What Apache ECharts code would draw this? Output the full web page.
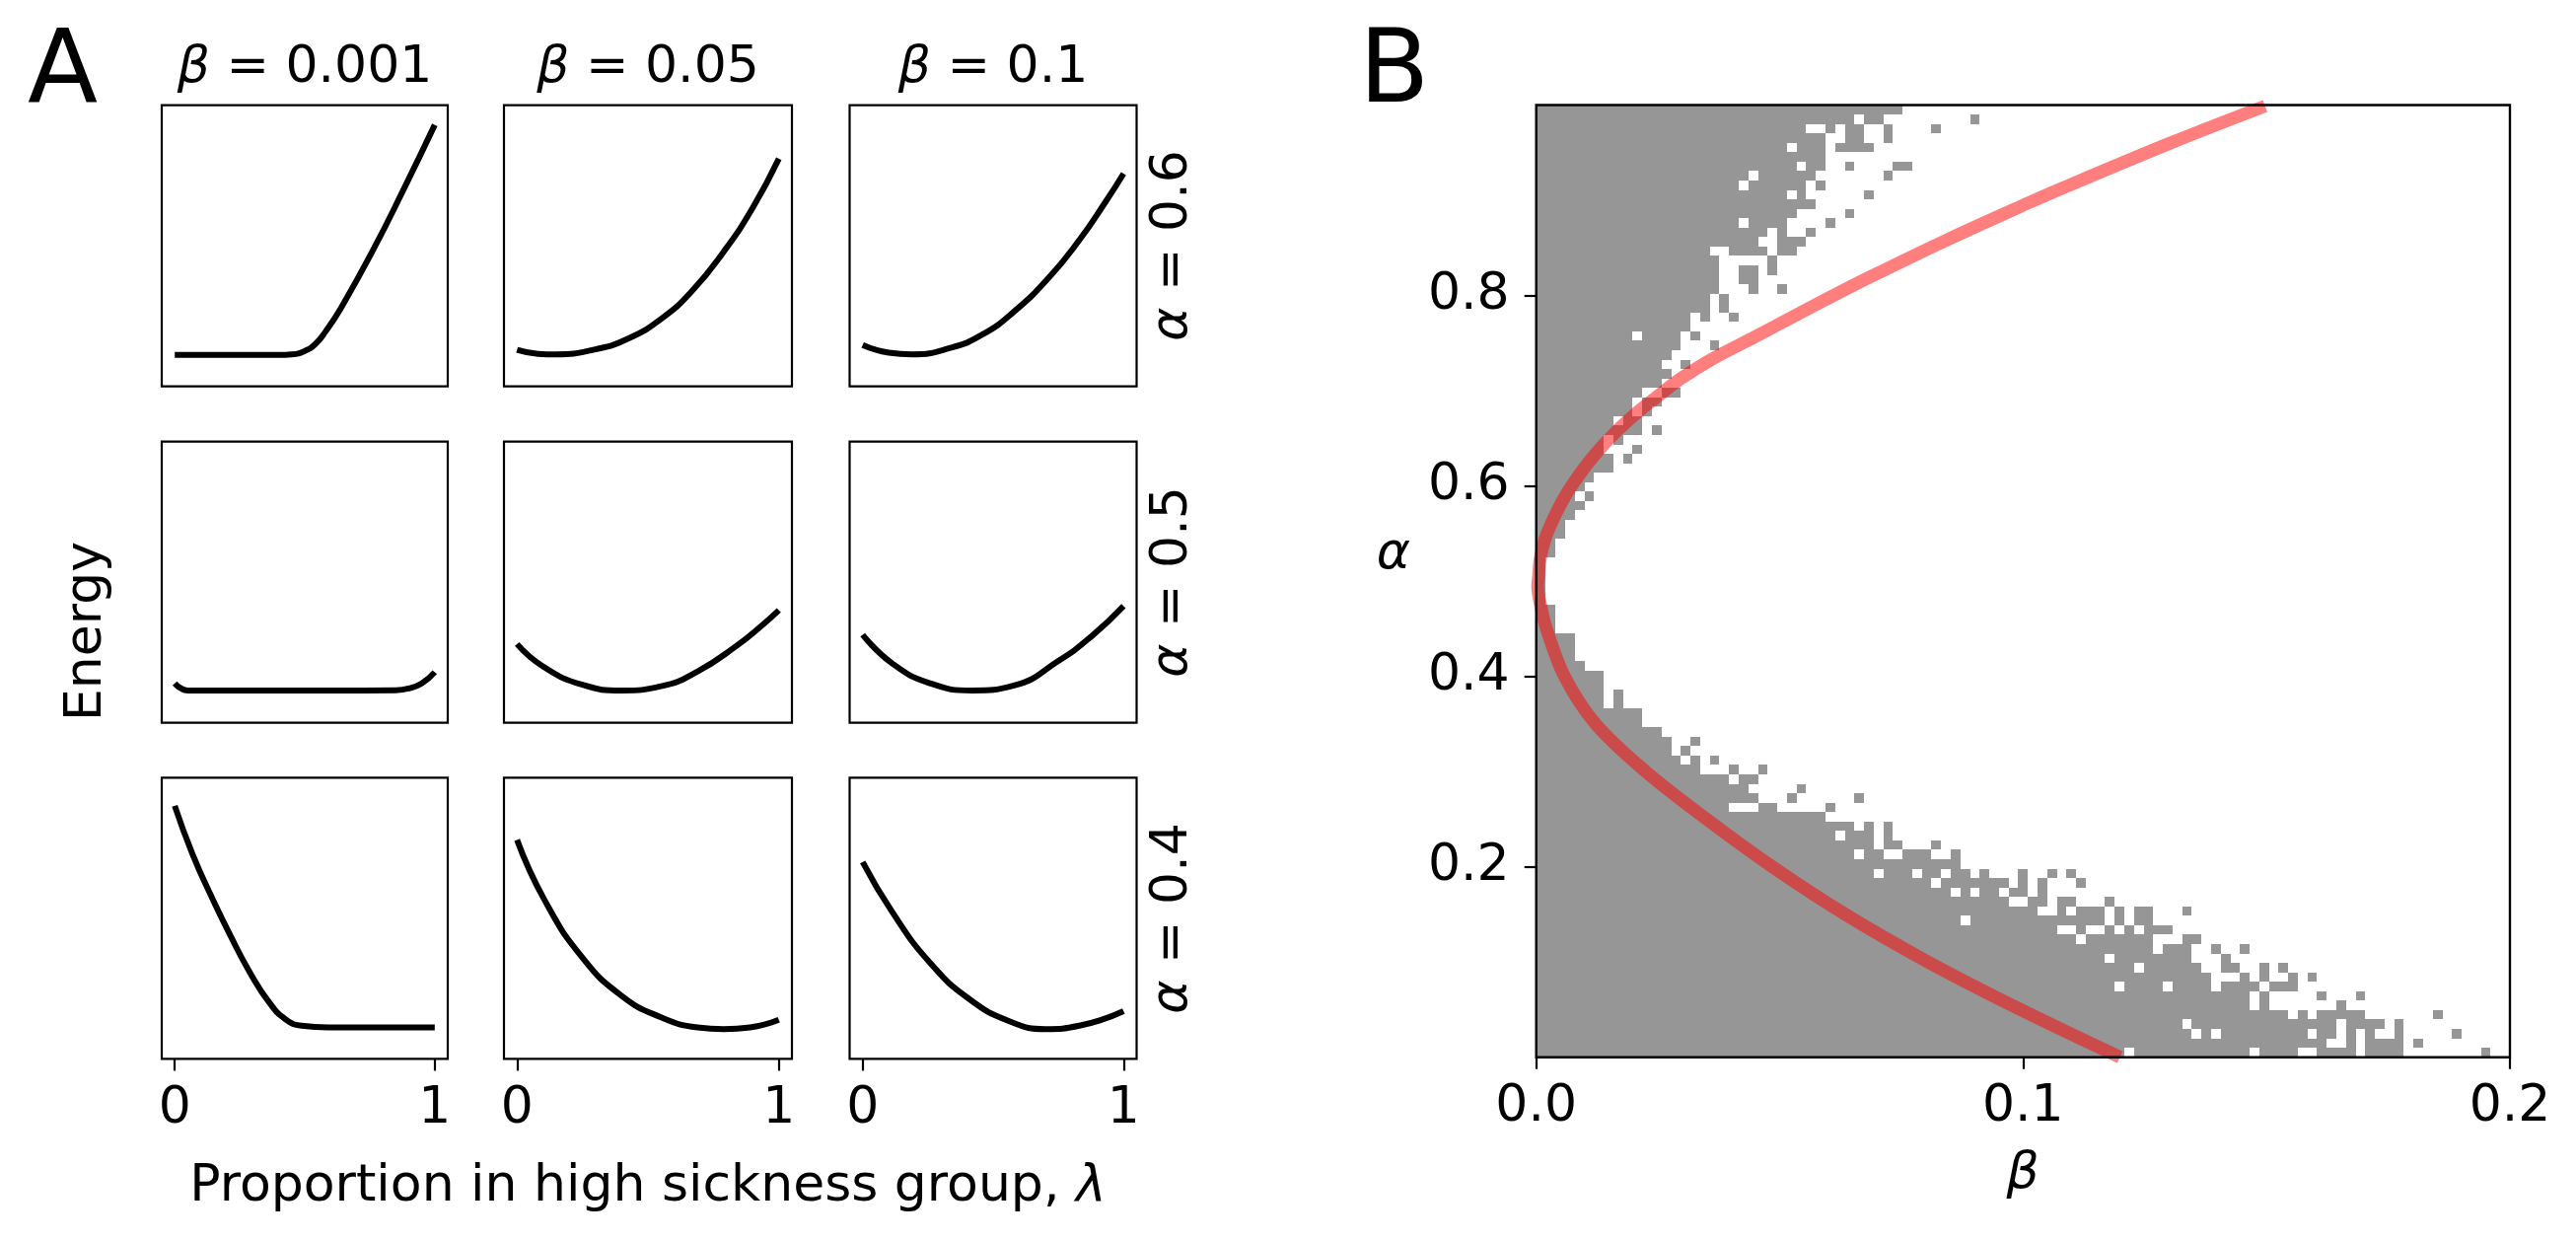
<!DOCTYPE html>
<html>
<head>
<meta charset="utf-8">
<script src="https://cdn.jsdelivr.net/npm/echarts@6/dist/echarts.min.js"></script>
<style>
html,body{margin:0;padding:0;background:#fff;}
#c{width:2612px;height:1258px;}
</style>
</head>
<body>
<div id="c"></div>
<script>
// ---------------- DATA ----------------
const betaTitles = ['0.001', '0.05', '0.1'];
const alphaRows = ['0.6', '0.5', '0.4'];
const lambdaTicks = [0, 1];

// Panel A: relative energy vs lambda
const e_a06_b0001 = [[0,0.112],[0.2,0.112],[0.4,0.112],[0.45,0.114],[0.5,0.126],[0.54,0.15],[0.58,0.195],[0.64,0.28],[0.76,0.48],[0.88,0.70],[1,0.93]];
const e_a06_b005  = [[0,0.13],[0.08,0.116],[0.15,0.114],[0.3,0.132],[0.42,0.168],[0.55,0.24],[0.67,0.341],[0.79,0.48],[0.9,0.635],[1,0.81]];
const e_a06_b01   = [[0,0.147],[0.1,0.12],[0.19,0.114],[0.34,0.138],[0.46,0.185],[0.58,0.266],[0.71,0.383],[0.83,0.52],[0.93,0.655],[1,0.757]];
const e_a05_b0001 = [[0,0.14],[0.02,0.125],[0.05,0.115],[0.3,0.115],[0.6,0.115],[0.85,0.116],[0.9,0.122],[0.95,0.14],[1,0.18]];
const e_a05_b005  = [[0,0.28],[0.1,0.2],[0.25,0.135],[0.4,0.115],[0.55,0.13],[0.69,0.183],[0.84,0.275],[0.94,0.35],[1,0.4]];
const e_a05_b01   = [[0,0.313],[0.115,0.21],[0.26,0.14],[0.42,0.115],[0.58,0.133],[0.75,0.22],[0.88,0.31],[1,0.415]];
const e_a04_b0001 = [[0,0.9],[0.068,0.729],[0.142,0.576],[0.216,0.435],[0.29,0.306],[0.364,0.2],[0.426,0.141],[0.488,0.118],[0.59,0.112],[1,0.112]];
const e_a04_b005  = [[0,0.779],[0.105,0.565],[0.25,0.36],[0.4,0.224],[0.55,0.148],[0.69,0.112],[0.79,0.106],[0.89,0.112],[1,0.139]];
const e_a04_b01   = [[0,0.7],[0.115,0.52],[0.26,0.34],[0.41,0.212],[0.56,0.135],[0.7,0.106],[0.83,0.118],[1,0.17]];

// Panel B: red boundary curve [beta, alpha]
const curveUpper = [[0.0003,0.495],[0.0005,0.506],[0.0008,0.523],[0.0018,0.544],[0.0035,0.565],[0.0059,0.589],[0.0086,0.610],[0.0119,0.632],[0.0160,0.655],[0.0207,0.677],[0.0254,0.696],[0.0295,0.712],[0.0364,0.734],[0.0451,0.757],[0.0517,0.775],[0.0588,0.794],[0.0684,0.819],[0.0842,0.858],[0.1010,0.897],[0.1077,0.912],[0.1307,0.961],[0.1497,0.999]];
const curveLower = [[0.0003,0.495],[0.0011,0.47],[0.0021,0.45],[0.0058,0.40],[0.0122,0.35],[0.0225,0.30],[0.0350,0.25],[0.0485,0.20],[0.0635,0.15],[0.0805,0.10],[0.0995,0.05],[0.1199,0.0]];

// Panel B: grey cells, 101 x 101 grid over beta [0,0.2] x alpha [0,1]
// one entry per grid row from the top row down; each run = [first column, last column]
const nCols = 101, nRows = 101;
const grayRunsTop = [
[[0,37]],
[[0,32],[34,35],[45,45]],
[[0,27],[30,30],[32,33],[36,36],[41,41]],
[[0,29],[32,33],[36,36]],
[[0,25],[27,29],[31,34]],
[[0,29]],
[[0,26],[28,29],[32,32],[37,38]],
[[0,21],[23,28],[36,36]],
[[0,20],[22,27],[29,29]],
[[0,25],[27,27],[34,34]],
[[0,28]],
[[0,26],[32,32]],
[[0,20],[22,25],[30,30]],
[[0,23],[25,25],[28,28]],
[[0,22],[25,27]],
[[0,17],[20,23],[25,26]],
[[0,18],[24,24]],
[[0,18],[21,22],[24,24]],
[[0,18],[21,22]],
[[0,18],[22,22],[25,25]],
[[0,17],[19,19]],
[[0,17],[19,19]],
[[0,15],[17,17],[20,20]],
[[0,15]],
[[0,9],[11,14],[16,16]],
[[0,14],[18,18]],
[[0,13]],
[[0,12],[15,15]],
[[0,13]],
[[0,12]],
[[0,10],[13,14]],
[[0,9],[11,12]],
[[0,9],[11,11]],
[[0,7],[9,10]],
[[0,10],[12,12]],
[[0,6],[8,8]],
[[0,6],[10,10]],
[[0,7],[9,9]],
[[0,7]],
[[0,5]],
[[0,4]],
[[0,3],[5,5]],
[[0,4]],
[[0,3]],
[[0,2]],
[[0,2]],
[[0,1]],
[[0,1]],
[[0,0]],
[[0,0]],
[[0,0]],
[[0,0]],
[[0,0]],
[[0,1]],
[[0,1]],
[[0,1]],
[[0,3]],
[[0,3]],
[[0,3]],
[[0,4]],
[[0,6]],
[[0,6]],
[[0,6],[8,8]],
[[0,6],[8,8]],
[[0,10]],
[[0,10]],
[[0,12]],
[[0,13],[16,16]],
[[0,13],[15,15]],
[[0,14],[16,16],[18,18]],
[[0,16],[20,20],[23,23]],
[[0,19],[21,22]],
[[0,21],[27,27]],
[[0,22],[26,26],[33,33]],
[[0,19],[23,24],[30,30]],
[[0,29]],
[[0,32],[34,34],[36,36]],
[[0,30],[32,34],[36,36]],
[[0,34],[36,37],[41,41]],
[[0,32],[34,35],[38,40],[43,43]],
[[0,43]],
[[0,34],[36,38],[40,41],[43,44],[46,46],[50,50],[53,53],[55,55]],
[[0,40],[42,48],[50,50],[52,52],[56,56]],
[[0,42],[44,44],[46,47],[49,50],[52,52]],
[[0,48],[51,52],[54,55],[59,59]],
[[0,51],[54,54],[56,58],[60,60],[62,63],[67,67]],
[[0,43],[45,58],[60,60],[62,63]],
[[0,53],[56,56],[59,59],[61,61],[63,65]],
[[0,55],[57,63],[67,68]],
[[0,63],[65,67],[70,70],[73,73]],
[[0,58],[60,67],[71,71]],
[[0,61],[63,68],[71,72],[75,75],[77,77]],
[[0,69],[73,73],[75,75],[78,78],[80,80]],
[[0,59],[61,64],[66,69],[71,74],[76,78]],
[[0,73],[75,75],[81,81],[85,85]],
[[0,73],[75,75],[83,83]],
[[0,77],[79,79],[81,85],[93,93]],
[[0,66],[68,82],[84,87],[89,89]],
[[0,67],[69,69],[71,79],[81,82],[84,84],[86,86],[89,89],[95,95]],
[[0,81],[84,84],[86,89],[91,91]],
[[0,60],[62,73],[75,78],[81,84],[86,89],[98,98]]
];
const betaTicks = [0, 0.1, 0.2];
const alphaTicks = [0.2, 0.4, 0.6, 0.8];

// ---------------- CHART ----------------
const FONT = 'DejaVu Sans';
const energy = [
  [e_a06_b0001, e_a06_b005, e_a06_b01],
  [e_a05_b0001, e_a05_b005, e_a05_b01],
  [e_a04_b0001, e_a04_b005, e_a04_b01]
];
const colLeft = [164, 511, 861.5];
const colWidth = [290, 292, 291];
const rowTop = [106.7, 447.7, 788.4];
const rowHeight = 285;

const grid = [], xAxis = [], yAxis = [], series = [];
for (let i = 0; i < 3; i++) {
  for (let j = 0; j < 3; j++) {
    const k = grid.length;
    grid.push({left: colLeft[j], top: rowTop[i], width: colWidth[j], height: rowHeight,
      show: true, borderColor: '#000', borderWidth: 2.2, backgroundColor: 'transparent'});
    const bottom = (i === 2);
    xAxis.push({gridIndex: k, type: 'value', min: -0.05, max: 1.05,
      axisLine: {show: false}, splitLine: {show: false},
      axisTick: {show: bottom, customValues: lambdaTicks, length: 12, lineStyle: {color: '#000', width: 2.2}},
      axisLabel: {show: bottom, customValues: lambdaTicks, fontSize: 52, fontFamily: FONT, color: '#000', margin: 25,
        formatter: v => String(v)}});
    yAxis.push({gridIndex: k, type: 'value', min: 0, max: 1,
      axisLine: {show: false}, splitLine: {show: false}, axisTick: {show: false}, axisLabel: {show: false}});
    series.push({type: 'line', xAxisIndex: k, yAxisIndex: k, data: energy[i][j],
      showSymbol: false, smooth: 0.5, clip: true, animation: false,
      lineStyle: {color: '#000', width: 6, cap: 'butt', join: 'round'}});
  }
}

// Panel B
const kB = grid.length;
grid.push({left: 1557.7, top: 106.5, width: 987.3, height: 965.2,
  show: true, borderColor: '#000', borderWidth: 2.4, backgroundColor: 'transparent', z: 10});
xAxis.push({gridIndex: kB, type: 'value', min: 0, max: 0.2, interval: 0.1,
  axisLine: {show: false}, splitLine: {show: false},
  axisTick: {show: true, customValues: betaTicks, length: 12, lineStyle: {color: '#000', width: 2.2}},
  axisLabel: {customValues: betaTicks, fontSize: 52, fontFamily: FONT, color: '#000', margin: 25,
    formatter: v => v.toFixed(1)}});
yAxis.push({gridIndex: kB, type: 'value', min: 0, max: 1,
  axisLine: {show: false}, splitLine: {show: false},
  axisTick: {show: true, customValues: alphaTicks, length: 12, lineStyle: {color: '#000', width: 2.2}},
  axisLabel: {customValues: alphaTicks, fontSize: 52, fontFamily: FONT, color: '#000', margin: 27,
    formatter: v => v.toFixed(1)}});

const cellW = 0.2 / nCols, cellH = 1 / nRows;
const cellData = [];
grayRunsTop.forEach((runs, t) => {
  const r = nRows - 1 - t;
  runs.forEach(run => cellData.push([run[0] * cellW, (run[1] + 1) * cellW, r * cellH, (r + 1) * cellH]));
});
series.push({type: 'custom', xAxisIndex: kB, yAxisIndex: kB, data: cellData, clip: true, animation: false,
  encode: {x: [0, 1], y: [2, 3]}, z: 1,
  renderItem: (params, api) => {
    const p0 = api.coord([api.value(0), api.value(3)]);
    const p1 = api.coord([api.value(1), api.value(2)]);
    const x0 = Math.round(p0[0]), y0 = Math.round(p0[1]);
    const x1 = Math.round(p1[0]), y1 = Math.round(p1[1]);
    return {type: 'rect', shape: {x: x0, y: y0, width: x1 - x0, height: y1 - y0},
      style: {fill: '#969696'}};
  }});
const curve = curveLower.slice().reverse().concat(curveUpper.slice(1));
series.push({type: 'line', xAxisIndex: kB, yAxisIndex: kB, data: curve, showSymbol: false,
  smooth: 0.35, clip: true, animation: false, z: 5,
  lineStyle: {color: 'rgba(255,0,0,0.5)', width: 13, cap: 'butt', join: 'round'}});

// texts
const graphic = [];
function txt(text, x, y, size, opts) {
  opts = opts || {};
  graphic.push({type: 'text', x: x, y: y, rotation: opts.rotation || 0, z: 100,
    style: {text: text, x: 0, y: 0, fill: '#000', fontSize: size, fontFamily: FONT,
      fontStyle: opts.italic ? 'italic' : 'normal',
      align: opts.align || 'center', verticalAlign: 'middle',
      textAlign: opts.align || 'center', textVerticalAlign: 'middle',
      rich: {i: {fontStyle: 'italic', fontSize: size, fontFamily: FONT, fill: '#000'},
             n: {fontStyle: 'normal', fontSize: size, fontFamily: FONT, fill: '#000'}}}});
}
txt('A', 28, 75.6, 104, {align: 'left'});
txt('B', 1378, 75.6, 104, {align: 'left'});
const colCenter = [309, 657, 1007];
betaTitles.forEach((b, j) => txt('{i|β}{n| = ' + b + '}', colCenter[j], 69, 52));
const rowCenter = [249, 590, 931];
alphaRows.forEach((a, i) => txt('{i|α}{n| = ' + a + '}', 1189.5, rowCenter[i], 52, {rotation: Math.PI / 2}));
txt('Energy', 88, 640, 52, {rotation: Math.PI / 2});
txt('{n|Proportion in high sickness group, }{i|λ}', 657, 1203, 52);
txt('β', 2051, 1190.6, 52, {italic: true});
txt('α', 1413, 562.6, 52, {italic: true});

const chart = echarts.init(document.getElementById('c'), null, {renderer: 'canvas'});
chart.setOption({
  animation: false,
  backgroundColor: '#fff',
  textStyle: {fontFamily: FONT},
  grid: grid, xAxis: xAxis, yAxis: yAxis, series: series, graphic: graphic
});
</script>
</body>
</html>
